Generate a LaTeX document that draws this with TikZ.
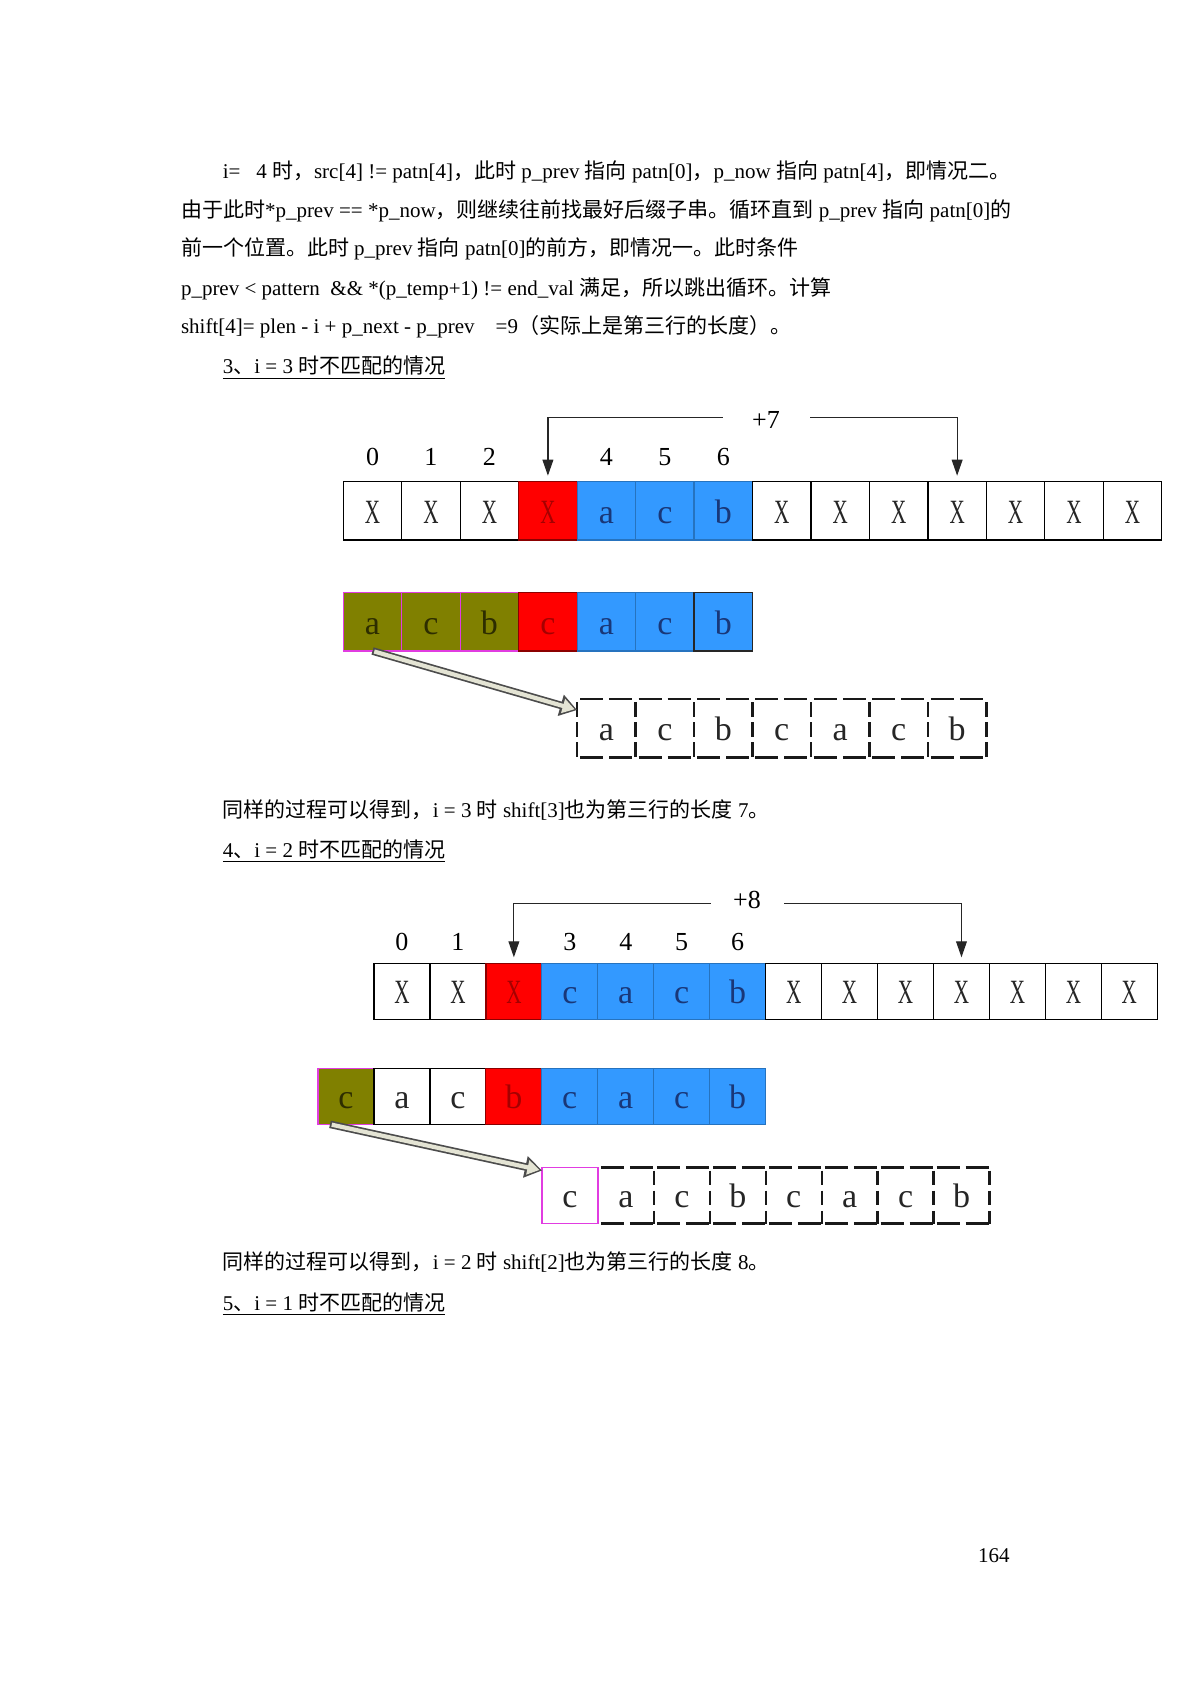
\documentclass[tikz,border=0pt]{standalone}
\usepackage{fontspec}
\setmainfont{Liberation Serif}
\newfontfamily\cjk{Noto Sans CJK SC}
\newfontfamily\xfont[FakeStretch=0.62]{Liberation Serif}
\usetikzlibrary{calc,arrows.meta}
\definecolor{cellblue}{RGB}{51,153,255}
\definecolor{cellolive}{RGB}{128,128,0}
\definecolor{cellred}{RGB}{255,0,0}
\definecolor{bluetext}{RGB}{25,55,120}
\definecolor{redtext}{RGB}{165,0,0}
\definecolor{olivetext}{RGB}{45,45,0}
\definecolor{pinkline}{RGB}{225,60,225}
\definecolor{arrowfill}{RGB}{228,228,212}
\newcommand\CX{{\xfont X}}
\begin{document}
\begin{tikzpicture}[x=0.5pt,y=-0.5pt,
 body/.style={anchor=base west, inner sep=0, font=\fontsize{10.5pt}{12pt}\selectfont},
 cellA/.style={minimum width=29.23pt, minimum height=29.15pt, inner sep=0, outer sep=0, anchor=north west, line width=0.6pt, text height=12.8pt, text depth=0pt, font=\fontsize{17pt}{17pt}\selectfont},
 cellB/.style={cellA, minimum width=27.98pt, minimum height=28pt, text height=12pt},
 wc/.style={draw=black, fill=white, text=black!85},
 rc/.style={draw=red!55!black, fill=cellred, text=redtext},
 bc/.style={draw=cellblue!75!black, fill=cellblue, text=bluetext},
 bkc/.style={draw=black!85, fill=cellblue, text=bluetext},
 oc/.style={draw=pinkline, fill=cellolive, text=olivetext},
 dc/.style={text=black!85},
 dashh/.style={draw=black!90, line width=1.25pt, dash pattern=on 11.5pt off 3pt, dash phase=13pt},
 dashv/.style={draw=black!90, line width=1.25pt, dash pattern=on 7.3pt off 2.8pt, dash phase=8.6pt},
 mc/.style={draw=pinkline, line width=0.8pt, text=black!85},
 idx/.style={font=\fontsize{13pt}{13pt}\selectfont, inner sep=0},
 bracket/.style={line width=0.6pt, draw=black!85, {Triangle[length=8pt,width=5.4pt]}-{Triangle[length=8pt,width=5.4pt]}},
 lbl/.style={fill=white, inner sep=0, minimum height=14pt, font=\fontsize{13pt}{13pt}\selectfont},
 hollowout/.style={line width=3.8pt, draw=black!70, -{Triangle[length=8.5pt,width=10.5pt]}},
 hollowin/.style={line width=2.1pt, draw=arrowfill, -{Triangle[length=6pt,width=7pt]}, shorten >=1.3pt, shorten <=0.9pt},
]
\fill[white] (0,0) rectangle (1190,1683);
\useasboundingbox (0,0) rectangle (1190,1683);

% ---------------- text above ----------------
\node[body] (t1) at (222.5,178) {i=\ \ \ 4 {\cjk 时，}src[4] != patn[4]{\cjk ，此时} p\_prev {\cjk 指向} patn[0]{\cjk ，}p\_now {\cjk 指向} patn[4]{\cjk ，即情况二。}};
\node[body] (t2) at (180.6,217.6) {{\cjk 由于此时}*p\_prev == *p\_now{\cjk ，则继续往前找最好后缀子串。循环直到} p\_prev {\cjk 指向} patn[0]{\cjk 的}};
\node[body] (t3) at (180.6,255) {{\cjk 前一个位置。此时} p\_prev {\cjk 指向} patn[0]{\cjk 的前方，即情况一。此时条件}};
\node[body] (t4) at (180.6,295) {p\_prev < pattern \ \&\& *(p\_temp+1) != end\_val {\cjk 满足，所以跳出循环。计算}};
\node[body] (t5) at (180.6,333.7) {shift[4]= plen - i + p\_next - p\_prev \ \ \ =9{\cjk （实际上是第三行的长度）。}};
\node[body] (t6) at (222.5,373.5) {\underline{3{\cjk 、}i = 3 {\cjk 时不匹配的情况}}};

% ---------------- diagram 1 ----------------
\foreach \i/\s/\t in {0/wc/\CX,1/wc/\CX,2/wc/\CX,3/rc/\CX,4/bc/a,5/bc/c,6/bc/b,7/wc/\CX,8/wc/\CX,9/wc/\CX,10/wc/\CX,11/wc/\CX,12/wc/\CX,13/wc/\CX}
  \node[cellA,\s] (A\i) at ({343.3+\i*58.46},481.7) {\t};
\foreach \i in {0,1,2,4,5,6}
  \node[idx] (n\i) at ($(A\i.north)+(0,-25)$) {\i};
\coordinate (L1) at ($(A3.north)+(0,-6)$);
\coordinate (R1) at ($(A10.north)+(0,-6)$);
\draw[bracket] (L1) -- ++(0,-58.4) -| (R1);
\node[lbl, minimum width=43.5pt] (p7) at (766,420) {+7};

\foreach \i/\s/\t in {0/oc/a,1/oc/c,2/oc/b,3/rc/c,4/bc/a,5/bc/c,6/bkc/b}
  \node[cellA,\s] (P\i) at ({343.3+\i*58.46},592.7) {\t};
\foreach \i/\t in {0/a,1/c,2/b,3/c,4/a,5/c,6/b}{
  \node[cellA,dc] (D\i) at ({577.1+\i*58.46},699) {\t};
  \draw[dashh] (D\i.north west) -- (D\i.north east);
  \draw[dashh] (D\i.south west) -- (D\i.south east);
  \draw[dashv] (D\i.north west) -- (D\i.south west);
}
\draw[dashv] (D6.north east) -- (D6.south east);
\coordinate (S1) at (P0.south);
\coordinate (T1) at ($(D0.north west)+(0,11)$);
\draw[hollowout] (S1) -- (T1);
\draw[hollowin] (S1) -- (T1);

\node[body] (t7) at (222.5,817.5) {{\cjk 同样的过程可以得到，}i = 3 {\cjk 时} shift[3]{\cjk 也为第三行的长度} 7{\cjk 。}};
\node[body] (t8) at (222.5,857) {\underline{4{\cjk 、}i = 2 {\cjk 时不匹配的情况}}};

% ---------------- diagram 2 ----------------
\foreach \i/\s/\t in {0/wc/\CX,1/wc/\CX,2/rc/\CX,3/bc/c,4/bc/a,5/bc/c,6/bc/b,7/wc/\CX,8/wc/\CX,9/wc/\CX,10/wc/\CX,11/wc/\CX,12/wc/\CX,13/wc/\CX}
  \node[cellB,\s] (B\i) at ({374+\i*55.95},963.3) {\t};
\foreach \i in {0,1,3,4,5,6}
  \node[idx] (m\i) at ($(B\i.north)+(0,-21)$) {\i};
\coordinate (L2) at ($(B2.north)+(0,-6)$);
\coordinate (R2) at ($(B10.north)+(0,-6)$);
\draw[bracket] (L2) -- ++(0,-54) -| (R2);
\node[lbl, minimum width=36.5pt] (p8) at (747,900) {+8};

\foreach \i/\s/\t in {0/oc/c,1/wc/a,2/wc/c,3/rc/b,4/bc/c,5/bc/a,6/bc/c,7/bc/b}
  \node[cellB,\s] (Q\i) at ({318+\i*55.95},1068.3) {\t};
\foreach \i/\t in {1/a,2/c,3/b,4/c,5/a,6/c,7/b}{
  \node[cellB,dc] (E\i) at ({542+\i*55.95},1167.5) {\t};
  \draw[dashh] (E\i.north west) -- (E\i.north east);
  \draw[dashh] (E\i.south west) -- (E\i.south east);
}
\foreach \i in {2,...,7}
  \draw[dashv] (E\i.north west) -- (E\i.south west);
\draw[dashv] (E7.north east) -- (E7.south east);
\node[cellB,mc] (E0) at (542,1167.5) {c};
\coordinate (S2) at ($(Q0.south)+(-16,0)$);
\coordinate (T2) at ($(E0.north west)+(0,3)$);
\draw[hollowout] (S2) -- (T2);
\draw[hollowin] (S2) -- (T2);

\node[body] (t9) at (222.5,1269) {{\cjk 同样的过程可以得到，}i = 2 {\cjk 时} shift[2]{\cjk 也为第三行的长度} 8{\cjk 。}};
\node[body] (t10) at (222.5,1310) {\underline{5{\cjk 、}i = 1 {\cjk 时不匹配的情况}}};

\node[body, anchor=base east] (pg) at (1010,1562) {164};
\end{tikzpicture}
\end{document}
